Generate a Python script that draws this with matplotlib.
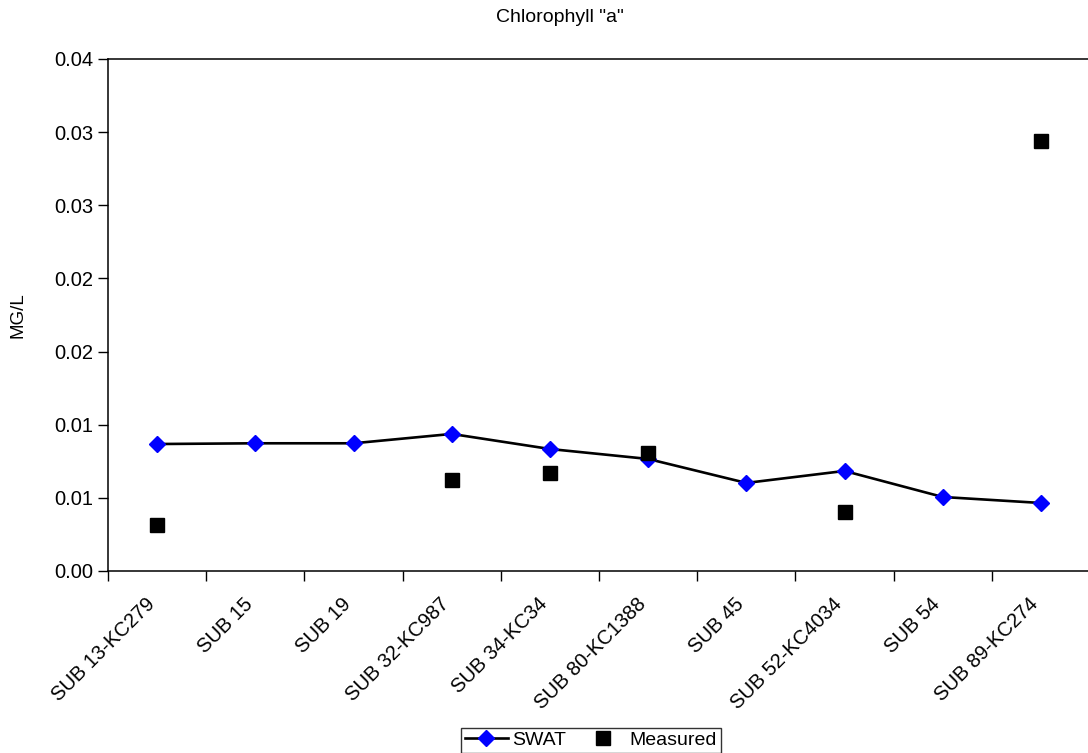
import matplotlib
matplotlib.use("Agg")
import matplotlib.pyplot as plt
import matplotlib.transforms as mtransforms
import numpy as np

plt.rcParams["font.family"] = ["Liberation Sans", "DejaVu Sans"]

categories = [
    "SUB 13-KC279", "SUB 15", "SUB 19", "SUB 32-KC987", "SUB 34-KC34",
    "SUB 80-KC1388", "SUB 45", "SUB 52-KC4034", "SUB 54", "SUB 89-KC274",
]
swat = [0.00868, 0.00873, 0.00873, 0.00937, 0.00834, 0.00766, 0.00602, 0.00684, 0.00506, 0.00465]
measured_idx = [0, 3, 4, 5, 7, 9]
measured = [0.00314, 0.00622, 0.00670, 0.00807, 0.00403, 0.02940]

y_ticks = [0.0, 0.005, 0.01, 0.015, 0.02, 0.025, 0.03, 0.035]
y_tick_labels = ["0.00", "0.01", "0.01", "0.02", "0.02", "0.03", "0.03", "0.04"]

W, H = 1088, 753
fig = plt.figure(figsize=(W / 100, H / 100), dpi=100)
ax = fig.add_axes([108 / W, 1 - 571 / H, (1090 - 108) / W, (571 - 59) / H])

x = np.arange(len(categories))
ax.plot(x, swat, color="black", linewidth=1.9, marker="D", markersize=8.5,
        markerfacecolor="#0000FF", markeredgecolor="#0000FF", label="SWAT", zorder=3)
ax.plot(x[measured_idx], measured, linestyle="none", marker="s", markersize=9.5,
        markerfacecolor="black", markeredgecolor="black", label="Measured", zorder=4)

ax.set_xlim(-0.5, len(categories) - 0.5)
ax.set_ylim(0, 0.035)
ax.set_yticks(y_ticks)
ax.set_yticklabels(y_tick_labels)

ax.set_xticks(np.arange(len(categories) + 1) - 0.5)
ax.set_xticklabels([])
ax.set_xticks(x, minor=True)
ax.set_xticklabels(categories, minor=True, rotation=45, ha="right",
                   rotation_mode="anchor", fontsize=14.5)
ax.tick_params(axis="x", which="minor", length=0, pad=17)
ax.tick_params(axis="both", which="major", direction="out", length=7, width=1,
               labelsize=14.5, colors="black")

shift = mtransforms.ScaledTranslation(-12 / 100, 0, fig.dpi_scale_trans)
for label in ax.get_xticklabels(minor=True):
    label.set_transform(label.get_transform() + shift)

for side in ["left", "bottom", "top"]:
    ax.spines[side].set_linewidth(1.1)
    ax.spines[side].set_color("black")
ax.spines["right"].set_visible(False)

ax.set_ylabel("MG/L", fontsize=13.5)
ax.yaxis.set_label_coords(-0.083, 0.5)
fig.text(560 / W, 1 - 18 / H, 'Chlorophyll "a"', ha="center", va="center", fontsize=14)

leg = fig.legend(loc="lower center", bbox_to_anchor=(591 / W, 0.0), ncol=2,
                 frameon=True, fancybox=False, fontsize=14, handlelength=2.2,
                 borderpad=0.2, columnspacing=0.8, handletextpad=0.25,
                 borderaxespad=0.0)
leg.get_frame().set_edgecolor("black")
leg.get_frame().set_linewidth(1.0)

fig.savefig("out.png", dpi=100)
